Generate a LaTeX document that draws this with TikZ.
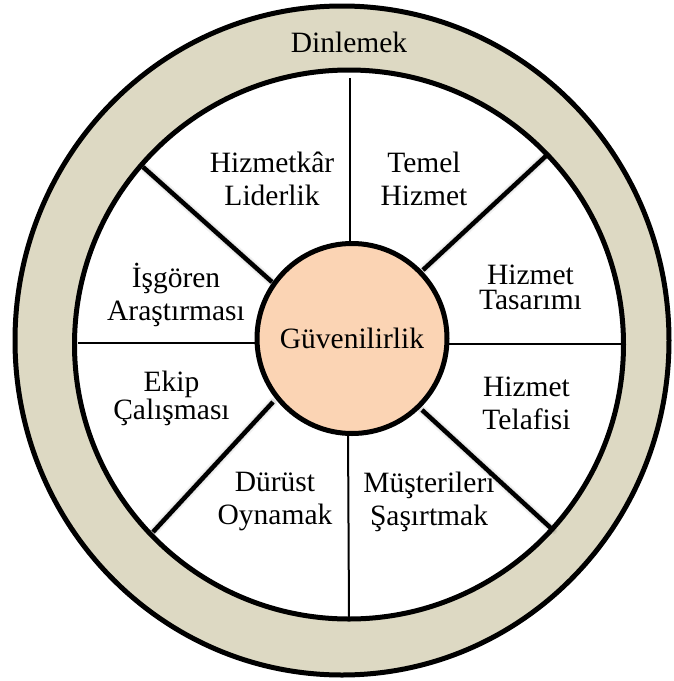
\documentclass[tikz,border=0pt]{standalone}
\usepackage{fontspec}
\setmainfont{Liberation Serif}
\definecolor{ringfill}{HTML}{DDD9C3}
\definecolor{corefill}{HTML}{FBD4B4}
\lineskiplimit=-20pt
\begin{document}
\begin{tikzpicture}[x=1pt,y=-1pt,
  ringline/.style={line width=5pt},
  thinline/.style={line width=2pt},
  thickline/.style={line width=4.5pt},
  shade1/.style={line width=9pt,draw=black,opacity=0.05,line cap=round},
  shade2/.style={line width=6pt,draw=black,opacity=0.08,line cap=round},
  lbl/.style={font=\fontsize{29.5}{33.5}\selectfont,text width=200pt,align=center,anchor=base,inner sep=0pt},
  lbltight/.style={font=\fontsize{29.5}{25.5}\selectfont,text width=200pt,align=center,anchor=base,inner sep=0pt},
  core/.style={circle,draw,line width=5pt,fill=corefill,minimum size=190pt,inner sep=0pt,font=\fontsize{29.5}{33.5}\selectfont}
]
\useasboundingbox (0,0) rectangle (674,681);
% ring
\fill[ringfill] (342,340.5) ellipse [x radius=327,y radius=334.5];
\fill[white] (349,344.5) circle [radius=274.5];
\draw[ringline] (342,340.5) ellipse [x radius=327,y radius=334.5];
\draw[ringline] (349,344.5) circle [radius=274.5];
% coordinates
\coordinate (ulo) at (143,167); \coordinate (uli) at (272,282);
\coordinate (uro) at (547,155); \coordinate (uri) at (423,270);
\coordinate (llo) at (153,532); \coordinate (lli) at (273,402);
\coordinate (lro) at (553,530); \coordinate (lri) at (422,410);
\coordinate (to) at (350,78);   \coordinate (ti) at (350,250);
\coordinate (bo) at (349,617);  \coordinate (bi) at (348,430);
\coordinate (lo) at (78,342.7); \coordinate (li) at (260,342.7);
\coordinate (ro) at (621,344);  \coordinate (ri) at (445,344);
% shadows of diagonals
\begin{scope}[shift={(2.5,3.5)}]
\foreach \a/\b in {ulo/uli,uro/uri,llo/lli,lro/lri}{
  \draw[shade1] (\a) -- (\b);
  \draw[shade2] (\a) -- (\b);
}
\end{scope}
% spokes
\draw[thickline] (ulo) -- (uli);
\draw[thickline] (uro) -- (uri);
\draw[thickline] (llo) -- (lli);
\draw[thickline] (lro) -- (lri);
\draw[thinline] (to) -- (ti);
\draw[thinline] (bo) -- (bi);
\draw[thinline] (lo) -- (li);
\draw[thinline] (ro) -- (ri);
% core
\node[core] (c) at (352,338.5) {Güvenilirlik};
% labels
\node[lbl] (dinle) at (349,52.5) {Dinlemek};
\node[lbl] (hl) at (272,172) {Hizmetkâr\\Liderlik};
\node[lbl] (th) at (424,172) {Temel\\Hizmet};
\node[lbl] (ia) at (176,287) {İşgören\\Araştırması};
\node[lbltight] (ht) at (530.5,284) {Hizmet\\Tasarımı};
\node[lbltight] (ec) at (171.5,391.5) {Ekip\\Çalışması};
\node[lbl] (htf) at (526.5,396) {Hizmet\\Telafisi};
\node[lbl] (do) at (275,491) {Dürüst\\Oynamak};
\node[lbl] (ms) at (429,492) {Müşterileri\\Şaşırtmak};
\end{tikzpicture}
\end{document}
